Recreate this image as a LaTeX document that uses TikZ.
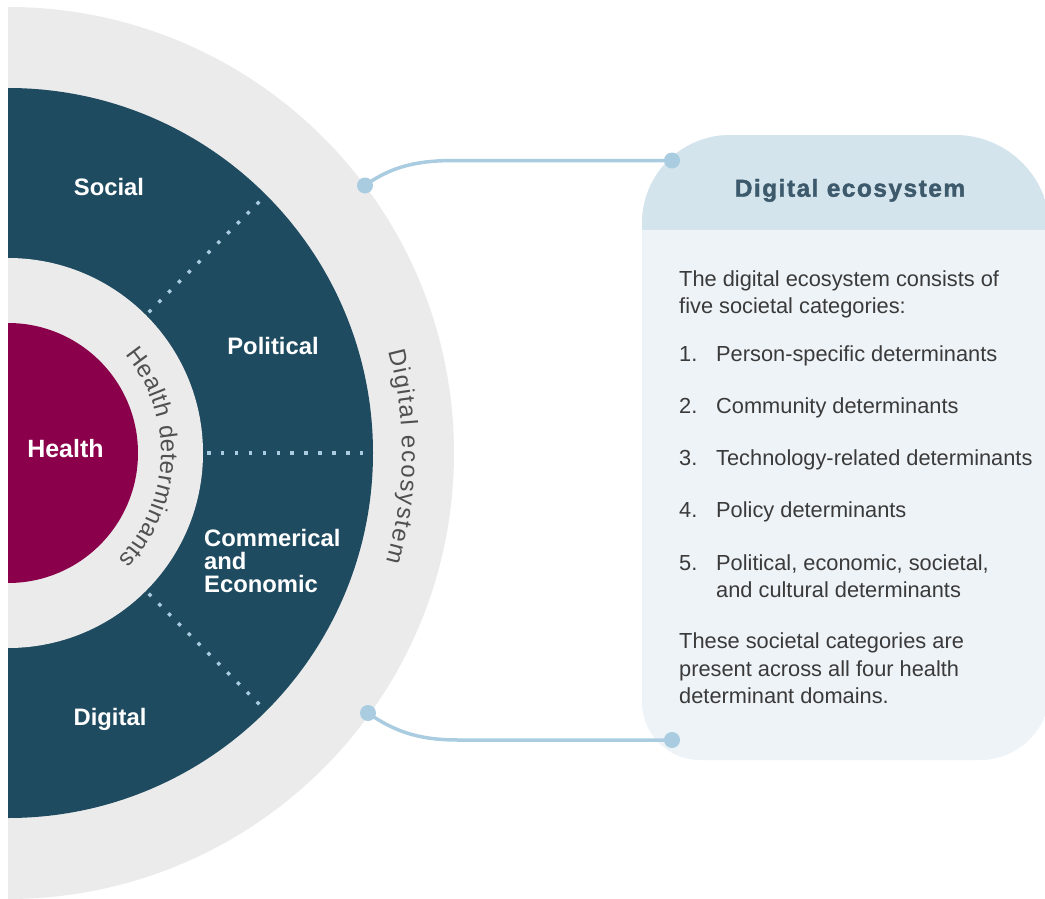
\documentclass[tikz,border=0pt]{standalone}
\usepackage{fontspec}
\setmainfont{Liberation Sans}
\newfontfamily\headfont{Liberation Sans Bold}[LetterSpace=6, FakeBold=1.6]
\usetikzlibrary{calc,decorations.text}

\definecolor{ringgray}{HTML}{EBEBEB}
\definecolor{deepteal}{HTML}{1F4B61}
\definecolor{healthred}{HTML}{8B004B}
\definecolor{paleblue}{HTML}{A9CCE0}
\definecolor{headblue}{HTML}{D4E4ED}
\definecolor{bodyblue}{HTML}{EEF3F7}
\definecolor{headtext}{HTML}{3D5A6C}
\definecolor{bodytext}{HTML}{3A3A3A}
\definecolor{ringtext}{HTML}{505050}

\newcommand\curvefont{\fontsize{24}{24}\selectfont}

\begin{document}
\begin{tikzpicture}[x=1pt,y=-1pt,
  ring label/.style={font=\bfseries\fontsize{23.8}{23.8}\selectfont, text=white, inner sep=0pt},
  body/.style={font=\fontsize{21.8}{27.5}\selectfont, text=bodytext, inner sep=0pt, anchor=base west},
  sep line/.style={paleblue, line width=3.5pt, dash pattern=on 3.5pt off 10.4pt},
  link/.style={paleblue, line width=3.5pt},
  pin/.style={circle, fill=paleblue, minimum size=16pt, inner sep=0pt},
  arc text/.style={decorate, decoration={text along path, text align={fit to path},
    text color=ringtext, text={|\curvefont|#1}}},
]
\useasboundingbox (0,0) rectangle (1045,899);
\coordinate (C) at (8,453);

% concentric rings of the determinant model
\begin{scope}
  \clip (8,0) rectangle (1045,899);
  \fill[ringgray]  (C) circle[radius=446];
  \fill[deepteal]  (C) circle[radius=365];
  \fill[ringgray]  (C) circle[radius=195];
  \fill[healthred] (C) circle[radius=130];
\end{scope}

% dotted separators between the four domains
\foreach \a in {-45,0,45}
  \draw[sep line] ($(C)+(\a:199)$) -- ($(C)+(\a:363)$);

% curved ring captions
\begingroup\curvefont
\path[arc text={Health determinants}] ($(C)+(-40:153)$) arc[start angle=-40, end angle=44, radius=153];
\path[arc text={Digital ecosystem}] ($(C)+(-15:394)$) arc[start angle=-15, end angle=16, radius=394];
\endgroup

% domain labels
\node[ring label, anchor=base] (social) at (109,195) {Social};
\node[ring label, anchor=base] (political) at (273,354) {Political};
\node[ring label, anchor=base west] (comm1) at (204,546.5) {Commerical};
\node[ring label, anchor=base west] (comm2) at (204,569.5) {and};
\node[ring label, anchor=base west] (comm3) at (204,592.5) {Economic};
\node[ring label, anchor=base] (digital) at (110,725) {Digital};
\node[ring label, anchor=base, font=\bfseries\fontsize{25}{25}\selectfont] (health) at (65.5,457.3) {Health};

% information panel
\begin{scope}
  \clip (642,223) arc[start angle=180, end angle=270, radius=88]
     -- (955,135) arc[start angle=270, end angle=360, radius=95]
     -- (1050,690) arc[start angle=0, end angle=90, radius=70]
     -- (700,760) arc[start angle=90, end angle=180, radius=58] -- cycle;
  \fill[bodyblue] (600,100) rectangle (1060,800);
  \fill[headblue] (600,100) rectangle (1060,230);
\end{scope}

\node[font=\headfont\fontsize{24.5}{24.5}\selectfont, text=headtext, anchor=base, inner sep=0pt] (head) at (850,196.7) {Digital ecosystem};

\node[body] (intro1) at (679,286) {The digital ecosystem consists of};
\node[body] (intro2) at (679,313) {five societal categories:};
\node[body] (n1) at (679,361) {1.};
\node[body] (i1) at (716,361) {Person-specific determinants};
\node[body] (n2) at (679,413) {2.};
\node[body] (i2) at (716,413) {Community determinants};
\node[body] (n3) at (679,465) {3.};
\node[body] (i3) at (716,465) {Technology-related determinants};
\node[body] (n4) at (679,517) {4.};
\node[body] (i4) at (716,517) {Policy determinants};
\node[body] (n5) at (679,570) {5.};
\node[body] (i5a) at (716,570) {Political, economic, societal,};
\node[body] (i5b) at (716,597) {and cultural determinants};
\node[body] (outro1) at (679,648) {These societal categories are};
\node[body] (outro2) at (679,676) {present across all four health};
\node[body] (outro3) at (679,703) {determinant domains.};

% connectors from the outer ring to the panel
\node[pin] (p1) at (365,185.5) {};
\node[pin] (p2) at (672,160.5) {};
\node[pin] (p3) at (368,713) {};
\node[pin] (p4) at (672,740) {};
\draw[link] (p1.center) .. controls (392,166) and (418,160.5) .. (455,160.5) -- (p2.center);
\draw[link] (p3.center) .. controls (395,732) and (420,740) .. (458,740) -- (p4.center);
\end{tikzpicture}
\end{document}
